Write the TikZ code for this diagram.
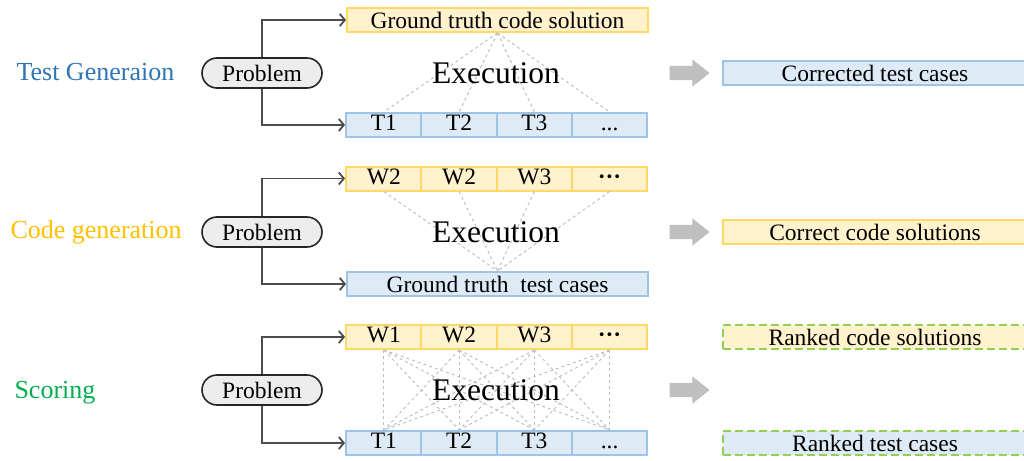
\documentclass[tikz,border=0pt]{standalone}
\usepackage{fontspec}
\setmainfont{Liberation Serif}
\usetikzlibrary{matrix,positioning,shapes.misc,shapes.arrows,arrows.meta}
\definecolor{codefill}{HTML}{FFF2CC}
\definecolor{codeline}{HTML}{FFD966}
\definecolor{testfill}{HTML}{DEEBF7}
\definecolor{testline}{HTML}{9DC3E6}
\definecolor{rankline}{HTML}{92D050}
\definecolor{probfill}{HTML}{EDEDED}
\definecolor{arrowgray}{HTML}{BFBFBF}
\definecolor{tgblue}{HTML}{2E75B6}
\definecolor{cggold}{HTML}{FFC000}
\definecolor{scgreen}{HTML}{00B050}

\begin{document}
\begin{tikzpicture}[
x=1pt,y=-1pt,
txt/.style={
  font=\fontsize{23.5}{26}\selectfont
  },
lbl/.style={
  font=\fontsize{26}{28}\selectfont,
  anchor=west
  },
code/.style={
  draw=codeline,
  fill=codefill,
  line width=2pt
  },
test/.style={
  draw=testline,
  fill=testfill,
  line width=2pt
  },
rank/.style={
  draw=rankline,
  dash pattern=on 8pt off 4pt
  },
cellrow/.style={
  matrix of nodes,
  inner sep=0pt,
  anchor=west,
  column sep=-2pt,
  nodes={
    #1,
    txt,
    anchor=center,
    text height=16.5pt,
    text depth=5.5pt,
    minimum width=75.25pt,
    inner xsep=0pt,
    inner ysep=1pt
    }
  },
wide/.style={
  txt,
  minimum height=24pt,
  inner sep=0pt
  },
prob/.style={
  txt,
  rounded rectangle,
  draw=black!85,
  fill=probfill,
  line width=1.6pt,
  minimum width=120pt,
  minimum height=30pt,
  inner sep=0pt
  },
exec/.style={
  draw=arrowgray,
  dashed,
  line width=1pt
  },
conn/.style={
  draw=black!70,
  line width=1.8pt,
  -{Straight Barb[length=5pt,width=12pt]}
  },
bigarrow/.style={
  single arrow,
  fill=arrowgray,
  draw=none,
  inner sep=7pt,
  minimum height=40pt,
  single arrow head extend=6.5pt,
  single arrow tip angle=77
  },
execfont/.style={
  font=\fontsize{31.5}{34}\selectfont
  }
]
\useasboundingbox (0,0) rectangle (1024,460);

% test generation
\node[lbl, text=tgblue] (lab1) at (13,72) {Test Generaion};
\node[prob] (p1) at (262,73) {Problem};
\node[wide, code, minimum width=301pt, anchor=west] (gtc) at (346,20) {Ground truth code solution};
\matrix[cellrow=test] (t1) at (345,125)
{
T1 & T2 & T3 & ... \\
};
\foreach \j in {1,...,4}
  \draw[exec] (gtc.south) -- (t1-1-\j.north);
\node[execfont] (ex1) at (496,73) {Execution};
\draw[conn] (p1.north) |- (gtc.west);
\draw[conn] (p1.south) |- (t1.west);
\node[bigarrow] (a1) at (685,73) {};
\node[wide, test, minimum width=304pt] (out1) at (875,73) {Corrected test cases};

% code generation
\node[lbl, text=cggold] (lab2) at (7,232) {Code generation};
\node[prob] (p2) at (262,232) {Problem};
\matrix[cellrow=code] (w2) at (345,178.5)
{
W2 & W2 & W3 & \textbf{···} \\
};
\node[wide, test, minimum width=301pt, anchor=west] (gtt) at (346,284) {Ground truth\ \ test cases};
\foreach \i in {1,...,4}
  \draw[exec] (w2-1-\i.south) -- (gtt.north);
\node[execfont] (ex2) at (496,232) {Execution};
\draw[conn] (p2.north) |- (w2.west);
\draw[conn] (p2.south) |- (gtt.west);
\node[bigarrow] (a2) at (685,232) {};
\node[wide, code, minimum width=304pt] (out2) at (875,232) {Correct code solutions};

% scoring
\node[lbl, text=scgreen] (lab3) at (11,393) {Scoring};
\node[prob] (p3) at (262,390) {Problem};
\matrix[cellrow=code] (w3) at (345,337)
{
W1 & W2 & W3 & \textbf{···} \\
};
\matrix[cellrow=test] (t3) at (345,443)
{
T1 & T2 & T3 & ... \\
};
\foreach \i in {1,...,4}
{\foreach \j in {1,...,4}
  \draw[exec] (w3-1-\i.south) -- (t3-1-\j.north);
}
\node[execfont] (ex3) at (496,390) {Execution};
\draw[conn] (p3.north) |- (w3.west);
\draw[conn] (p3.south) |- (t3.west);
\node[bigarrow] (a3) at (685,390) {};
\node[wide, code, rank, minimum width=304pt] (out3) at (875,337) {Ranked code solutions};
\node[wide, test, rank, minimum width=304pt] (out4) at (875,443) {Ranked test cases};

\end{tikzpicture}
\end{document}
